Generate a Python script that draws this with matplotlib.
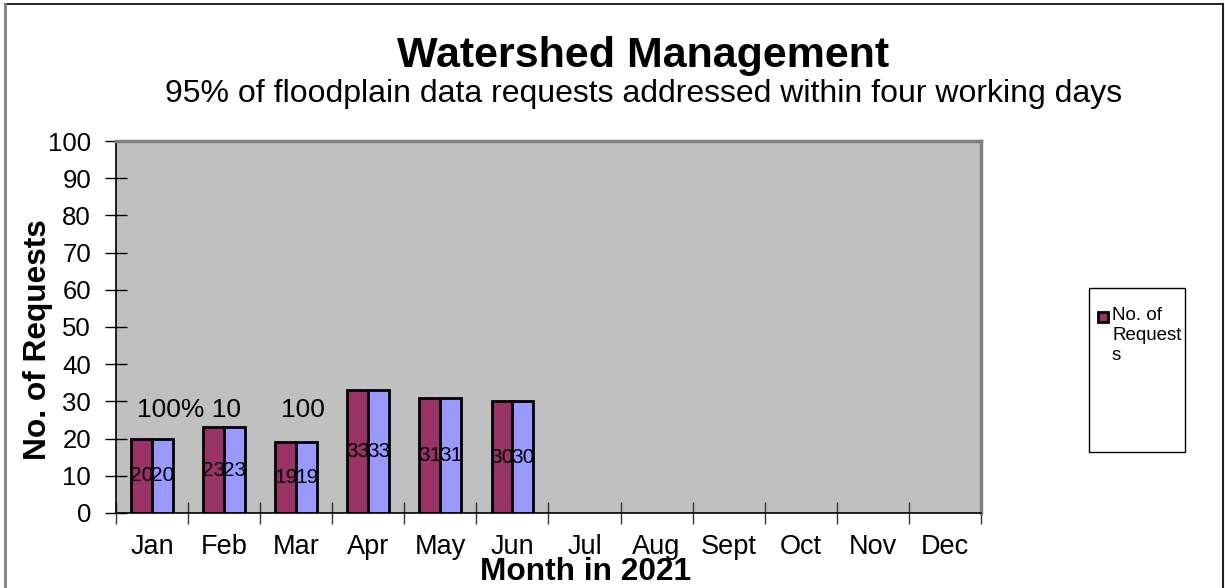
import numpy as np
import matplotlib.pyplot as plt
from matplotlib.patches import Rectangle
from matplotlib.lines import Line2D

plt.rcParams['font.family'] = ['Liberation Sans', 'DejaVu Sans']

months = ['Jan', 'Feb', 'Mar', 'Apr', 'May', 'Jun', 'Jul', 'Aug', 'Sept', 'Oct', 'Nov', 'Dec']
requests = [20, 23, 19, 33, 31, 30]
addressed = [20, 23, 19, 33, 31, 30]
pct_labels = ['100% 10', '100']

fig = plt.figure(figsize=(12.25, 5.88), dpi=100)
ax = fig.add_axes([0.0947, 0.1276, 0.7061, 0.6326])
ax.set_facecolor('#C0C0C0')

x = np.arange(len(requests))
w = 0.29
ax.bar(x - w/2, requests, w, color='#993366', edgecolor='black', linewidth=2, zorder=3)
ax.bar(x + w/2, addressed, w, color='#9999FF', edgecolor='black', linewidth=2, zorder=3)

for i in range(len(requests)):
    ax.text(x[i] - w/2, requests[i]/2, str(requests[i]), ha='center', va='center', fontsize=15, zorder=4)
    ax.text(x[i] + w/2, addressed[i]/2, str(addressed[i]), ha='center', va='center', fontsize=15, zorder=4)

# clipped percentage labels
ax.text(0.51, 27.7, pct_labels[0], ha='center', va='center', fontsize=19, zorder=4)
ax.text(2.1, 27.7, pct_labels[1], ha='center', va='center', fontsize=19, zorder=4)

ax.set_xlim(-0.5, 11.5)
ax.set_ylim(0, 100)
ax.set_yticks(np.arange(0, 101, 10))
ax.set_xticks(np.arange(12))
ax.set_xticklabels(months)
ax.set_xticks(np.arange(-0.5, 12, 1), minor=True)
ax.tick_params(axis='x', which='major', length=0, labelsize=19.5, pad=15)
ax.tick_params(axis='x', which='minor', direction='inout', length=16, width=1, color='#333333')
ax.tick_params(axis='y', direction='inout', length=16, width=1, labelsize=18.5, pad=10)

for s in ['left', 'bottom']:
    ax.spines[s].set_color('black')
    ax.spines[s].set_linewidth(1.2)
for s in ['top', 'right']:
    ax.spines[s].set_color('#808080')
    ax.spines[s].set_linewidth(2.5)

fig.text(0.525, 1 - 67/588, 'Watershed Management', ha='center', va='baseline', fontsize=31, fontweight='bold')
fig.text(0.525, 1 - 102/588, '95% of floodplain data requests addressed within four working days',
         ha='center', va='baseline', fontsize=23)
fig.text(0.031, 0.422, 'No. of Requests', rotation=90, ha='center', va='center', fontsize=22.8, fontweight='bold')
fig.text(0.478, 1 - 580/588, 'Month in 2021', ha='center', va='baseline', fontsize=22.8, fontweight='bold')

# legend box
fig.patches.append(Rectangle((1089/1225, 1 - 452/588), 96/1225, 164/588, transform=fig.transFigure,
                             facecolor='white', edgecolor='black', linewidth=1))
fig.patches.append(Rectangle((1098/1225, 1 - 322/588), 10/1225, 10/588, transform=fig.transFigure,
                             facecolor='#993366', edgecolor='black', linewidth=2))
fig.text(1112/1225, 1 - 307/588, 'No. of\nRequest\ns', ha='left', va='top', fontsize=13.5, linespacing=1.25)

# outer chart border
fig.add_artist(Line2D([5/1225, 1223/1225], [1 - 4/588, 1 - 4/588], color='black', lw=1.2, transform=fig.transFigure))
fig.add_artist(Line2D([5/1225, 5/1225], [0, 1 - 4/588], color='#808080', lw=2, transform=fig.transFigure))
fig.add_artist(Line2D([1223/1225, 1223/1225], [0, 1 - 4/588], color='#222222', lw=1.5, transform=fig.transFigure))

fig.savefig('out.png', dpi=100)
